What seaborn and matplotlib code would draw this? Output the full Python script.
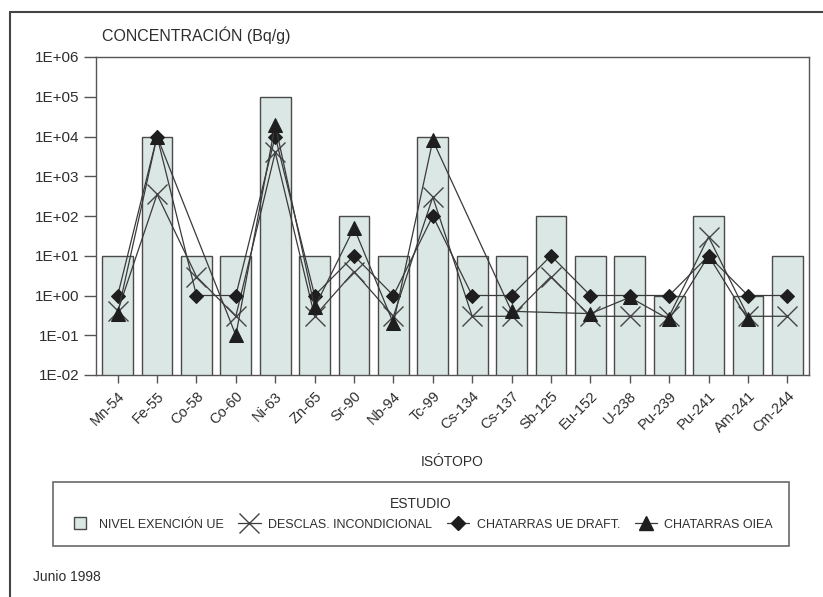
import numpy as np
import pandas as pd
import matplotlib
matplotlib.use("Agg")
import matplotlib.pyplot as plt
from matplotlib.lines import Line2D
from matplotlib.ticker import FixedLocator, NullLocator
import seaborn as sns

# Isotopes on the horizontal axis
isotopes = ["Mn-54", "Fe-55", "Co-58", "Co-60", "Ni-63", "Zn-65", "Sr-90", "Nb-94",
            "Tc-99", "Cs-134", "Cs-137", "Sb-125", "Eu-152", "U-238", "Pu-239",
            "Pu-241", "Am-241", "Cm-244"]

# Concentrations in Bq/g (NaN = no value given for that study)
nivel_exencion_ue = [10, 1e4, 10, 10, 1e5, 10, 100, 10, 1e4, 10, 10, 100, 10, 10, 1, 100, 1, 10]
desclas_incondicional = [0.4, 350, 3, 0.3, 4000, 0.3, 4, 0.3, 300, 0.3, 0.3, 3, 0.3, 0.3, 0.3, 30, 0.3, 0.3]
chatarras_ue_draft = [1, 1e4, 1, 1, 1e4, 1, 10, 1, 100, 1, 1, 10, 1, 1, 1, 10, 1, 1]
chatarras_oiea = [0.35, 1e4, np.nan, 0.1, 2e4, 0.5, 50, 0.2, 8e3, np.nan, 0.4, np.nan,
                  0.35, 0.9, 0.25, 10, 0.25, np.nan]

y_exponents = [-2, -1, 0, 1, 2, 3, 4, 5, 6]

sns.set_theme(style="ticks")
plt.rcParams["font.family"] = ["Liberation Sans", "DejaVu Sans"]

bar_color = "#dbe7e4"
edge_color = "#4a4a4a"
line_color = "#3a3a3a"
mark_color = "#1e1e1e"
text_color = "#2e2e2e"
fs_tick = 11
fs_leg = 9

W, H = 823, 597
fig = plt.figure(figsize=(W / 100, H / 100), dpi=100)
fig.patch.set_facecolor("white")
ax = fig.add_axes([96 / W, 1 - 375 / H, (809 - 96) / W, (375 - 57) / H])
ax.set_yscale("log")

df = pd.DataFrame({
    "isotopo": isotopes,
    "nivel": nivel_exencion_ue,
    "desclas": desclas_incondicional,
    "ue": chatarras_ue_draft,
    "oiea": chatarras_oiea,
})
df["pos"] = np.arange(len(df))

sns.barplot(data=df, x="isotopo", y="nivel", color=bar_color, saturation=1,
            edgecolor=edge_color, linewidth=1.0, width=0.78, ax=ax, zorder=1)

x_style = dict(marker="x", markersize=14, markeredgewidth=1.0, markeredgecolor="#444444")
d_style = dict(marker="D", markersize=7.2, markerfacecolor=mark_color,
               markeredgecolor=mark_color)
t_style = dict(marker="^", markersize=9.5, markerfacecolor=mark_color,
               markeredgecolor=mark_color)

for col, style in [("desclas", x_style), ("ue", d_style), ("oiea", t_style)]:
    sub = df[["pos", col]].dropna()
    sns.lineplot(x=sub["pos"].to_numpy(), y=sub[col].to_numpy(), ax=ax, sort=False,
                 color=line_color, linewidth=0.9, zorder=3, **style)

ax.set_xlim(-0.55, len(isotopes) - 0.45)
ax.set_ylim(10.0 ** y_exponents[0], 10.0 ** y_exponents[-1])
ax.yaxis.set_major_locator(FixedLocator([10.0 ** e for e in y_exponents]))
ax.yaxis.set_minor_locator(NullLocator())
ax.set_yticklabels([f"1E{e:+03d}" for e in y_exponents], fontsize=fs_tick, color=text_color)
ax.set_xticks(np.arange(len(isotopes)))
ax.set_xticklabels(isotopes, rotation=45, ha="right", rotation_mode="anchor",
                   fontsize=10.5, color=text_color)
ax.tick_params(axis="y", length=9, width=1, color="#555555", pad=3)
ax.tick_params(axis="x", length=6, width=1, color="#555555", pad=4)
for s in ax.spines.values():
    s.set_color("#555555")
    s.set_linewidth(1.0)
ax.set_xlabel("")
ax.set_ylabel("")

fig.text(102 / W, 1 - 35 / H, "CONCENTRACIÓN (Bq/g)", fontsize=11.5, color=text_color,
         ha="left", va="center")
fig.text(452 / W, 1 - 462 / H, "ISÓTOPO", fontsize=10, color=text_color,
         ha="center", va="center")
fig.text(33 / W, 1 - 577 / H, "Junio 1998", fontsize=10, color=text_color,
         ha="left", va="center")

handles = [
    Line2D([], [], linestyle="none", marker="s", markersize=9,
           markerfacecolor=bar_color, markeredgecolor=edge_color, markeredgewidth=1.0),
    Line2D([], [], color=line_color, linewidth=0.9, **x_style),
    Line2D([], [], color=line_color, linewidth=0.9, **d_style),
    Line2D([], [], color=line_color, linewidth=0.9, **t_style),
]
labels = ["NIVEL EXENCIÓN UE", "DESCLAS. INCONDICIONAL", "CHATARRAS UE DRAFT.",
          "CHATARRAS OIEA"]
leg = fig.legend(handles, labels, title="ESTUDIO", ncol=4, loc="center",
                 bbox_to_anchor=(47 / W, 1 - 548 / H, (795 - 47) / W, (548 - 480) / H),
                 mode="expand", frameon=True, fancybox=False, fontsize=fs_leg,
                 title_fontsize=10, handlelength=1.8, handletextpad=0.6,
                 columnspacing=1.2, borderpad=1.25, labelspacing=0.6)
leg.get_frame().set_edgecolor("#444444")
leg.get_frame().set_linewidth(1.2)
for t in leg.get_texts():
    t.set_color(text_color)
leg.get_title().set_color(text_color)

# outer page frame (top and left edges)
fig.add_artist(Line2D([10 / W, 1.0], [1 - 12 / H, 1 - 12 / H], color="#444444",
                      linewidth=1.5, transform=fig.transFigure))
fig.add_artist(Line2D([10 / W, 10 / W], [0.0, 1 - 12 / H], color="#444444",
                      linewidth=1.5, transform=fig.transFigure))

fig.savefig("out.png", dpi=100, facecolor="white")
